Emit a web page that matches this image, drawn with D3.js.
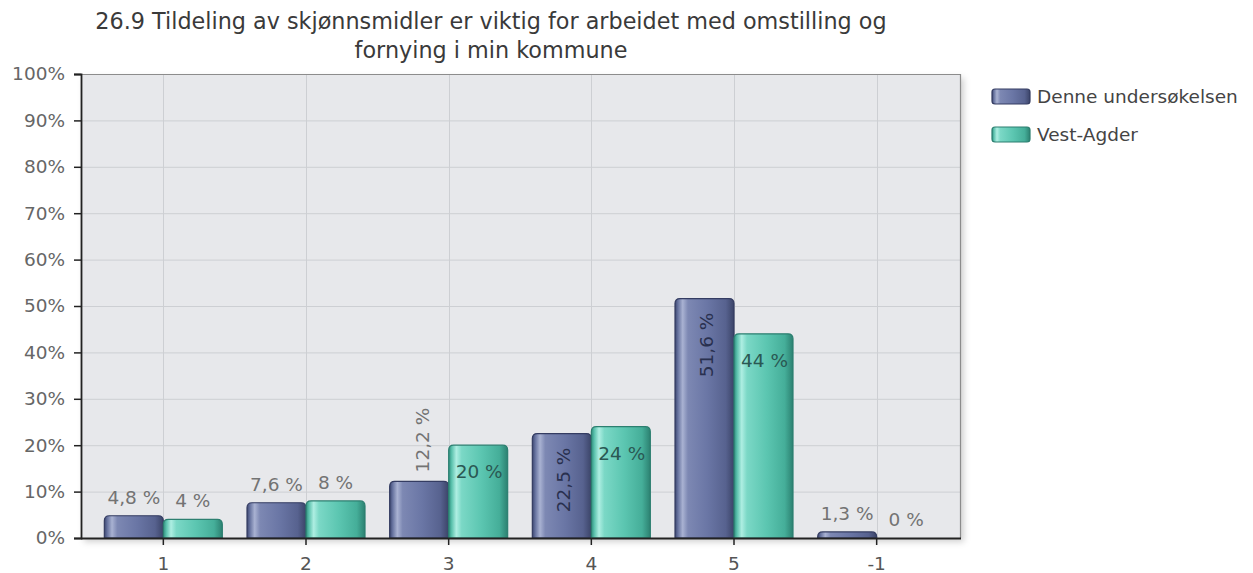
<!DOCTYPE html>
<html><head><meta charset="utf-8">
<script src="https://cdn.jsdelivr.net/npm/d3@7"></script>
<style>
html,body{margin:0;padding:0;background:#fff;}
svg{display:block;font-family:"DejaVu Sans",sans-serif;}
</style></head>
<body><svg id="chart" width="1253" height="573"></svg>
<script>
const titleLines = ["26.9 Tildeling av skjønnsmidler er viktig for arbeidet med omstilling og", "fornying i min kommune"];
const categories = ["1", "2", "3", "4", "5", "-1"];
const seriesNames = ["Denne undersøkelsen", "Vest-Agder"];
const denneValues = [4.8, 7.6, 12.2, 22.5, 51.6, 1.3];
const vestAgderValues = [4, 8, 20, 24, 44, 0];
const labelsDenne = ["4,8 %", "7,6 %", "12,2 %", "22,5 %", "51,6 %", "1,3 %"];
const labelsVest = ["4 %", "8 %", "20 %", "24 %", "44 %", "0 %"];
const yTicks = [0, 10, 20, 30, 40, 50, 60, 70, 80, 90, 100];

const series = [
  {name: seriesNames[0], values: denneValues, labels: labelsDenne, grad: "gBlue", stroke: "#343c62", inText: "#29304f"},
  {name: seriesNames[1], values: vestAgderValues, labels: labelsVest, grad: "gTeal", stroke: "#2c7f70", inText: "#2a5853"}
];

const svg = d3.select("#chart");
const L = 81, R = 961, T = 74, B = 538;
const defs = svg.append("defs");

function grad(id, stops) {
  const g = defs.append("linearGradient").attr("id", id).attr("x1", "0%").attr("x2", "100%").attr("y1", "0%").attr("y2", "0%");
  stops.forEach(s => g.append("stop").attr("offset", s[0]).attr("stop-color", s[1]));
}
grad("gBlue", [["0%", "#3c4670"], ["5%", "#67739f"], ["13%", "#a9b2d2"], ["22%", "#7d88b3"], ["55%", "#6a76a5"], ["86%", "#57628f"], ["100%", "#3b4468"]]);
grad("gTeal", [["0%", "#2f8c7c"], ["5%", "#5ac1ac"], ["13%", "#aeeee2"], ["22%", "#7bd8c6"], ["55%", "#5cc6b1"], ["86%", "#45ae99"], ["100%", "#2c8171"]]);
const f = defs.append("filter").attr("id", "shadow").attr("x", "-5%").attr("y", "-5%").attr("width", "110%").attr("height", "115%");
f.append("feDropShadow").attr("dx", 3).attr("dy", 4).attr("stdDeviation", 3).attr("flood-color", "#000").attr("flood-opacity", 0.18);

const x = d3.scaleBand().domain(categories).range([92, 948]).paddingInner(0).paddingOuter(0);
const barW = 59;
const xs = d3.scaleBand().domain(seriesNames).range([-barW, barW]);
const y = d3.scaleLinear().domain([0, 100]).range([B, T]);
const cx = c => x(c) + x.bandwidth() / 2;

// plot background
svg.append("rect").attr("x", L).attr("y", T).attr("width", R - L).attr("height", B - T)
  .attr("fill", "#e7e8eb").attr("filter", "url(#shadow)");

// grid
svg.append("g").selectAll("line.h").data(yTicks.slice(1)).join("line")
  .attr("x1", L).attr("x2", R).attr("y1", d => y(d) + 0.5).attr("y2", d => y(d) + 0.5)
  .attr("stroke", "#cdcfd3").attr("stroke-width", 1);
svg.append("g").selectAll("line.v").data(categories).join("line")
  .attr("x1", d => Math.round(cx(d)) + 0.5).attr("x2", d => Math.round(cx(d)) + 0.5).attr("y1", T).attr("y2", B)
  .attr("stroke", "#cdcfd3").attr("stroke-width", 1);

// top/right border
svg.append("path").attr("d", `M${L},${T + 0.5}H${R - 0.5}V${B}`).attr("fill", "none").attr("stroke", "#8c8c8c").attr("stroke-width", 1.2);

// bars
function barPath(x0, w, y0, h, r) {
  r = Math.min(r, h, w / 2);
  if (h <= 0) return "";
  return `M${x0},${y0 + h}V${y0 + r}Q${x0},${y0} ${x0 + r},${y0}H${x0 + w - r}Q${x0 + w},${y0} ${x0 + w},${y0 + r}V${y0 + h}Z`;
}
const gBars = svg.append("g");
series.forEach(s => {
  categories.forEach((c, i) => {
    const v = s.values[i];
    const bx = cx(c) + xs(s.name);
    const top = y(v);
    const h = B - top;
    if (h > 0) {
      gBars.append("path").attr("d", barPath(bx, xs.bandwidth(), top, h, 5))
        .attr("fill", `url(#${s.grad})`).attr("stroke", s.stroke).attr("stroke-width", 1.2);
    }
  });
});

// value labels
const gLab = svg.append("g").attr("font-size", "18.5px");
series.forEach(s => {
  categories.forEach((c, i) => {
    const v = s.values[i];
    const bcx = cx(c) + xs(s.name) + xs.bandwidth() / 2;
    const top = y(v);
    const h = B - top;
    const t = gLab.append("text").text(s.labels[i]);
    const w = t.node().getComputedTextLength();
    const rotated = w > xs.bandwidth() - 2;
    const extent = rotated ? w : 18.5;
    const inside = h > extent + 28;
    if (rotated) {
      if (inside) {
        t.attr("text-anchor", "end").attr("dominant-baseline", "central")
          .attr("transform", `translate(${bcx + 2},${top + 14}) rotate(-90)`).attr("fill", s.inText);
      } else {
        t.attr("text-anchor", "start").attr("dominant-baseline", "central")
          .attr("transform", `translate(${bcx + 3},${top - 9}) rotate(-90)`).attr("fill", "#737373");
      }
    } else {
      if (inside) {
        t.attr("text-anchor", "middle").attr("x", bcx + 1).attr("y", top + 33).attr("fill", s.inText);
      } else {
        t.attr("text-anchor", "middle").attr("x", bcx).attr("y", top - 12).attr("fill", "#737373");
      }
    }
  });
});

// y axis
const yAxis = d3.axisLeft(y).tickValues(yTicks).tickSize(7).tickPadding(9).tickFormat(d => d + "%");
const gy = svg.append("g").attr("transform", `translate(${L},0)`).call(yAxis);
gy.select(".domain").attr("stroke", "#222").attr("stroke-width", 1.8);
gy.selectAll(".tick line").attr("stroke", "#222").attr("stroke-width", 1.5);
gy.selectAll(".tick text").attr("font-family", "DejaVu Sans").attr("font-size", "18.5px").attr("fill", "#666");

// x axis
const xAxis = d3.axisBottom(x).tickSize(7).tickPadding(12).tickSizeOuter(0);
const gx = svg.append("g").attr("transform", `translate(0,${B})`).call(xAxis);
gx.select(".domain").attr("d", `M${L},0.5H${R}`).attr("stroke", "#222").attr("stroke-width", 1.8);
gx.selectAll(".tick line").attr("stroke", "#222").attr("stroke-width", 1.5);
gx.selectAll(".tick text").attr("font-family", "DejaVu Sans").attr("font-size", "18.5px").attr("fill", "#555");

// title
svg.append("g").selectAll("text").data(titleLines).join("text")
  .attr("x", 491).attr("y", (d, i) => 29 + i * 29)
  .attr("text-anchor", "middle").attr("font-size", "22.3px").attr("fill", "#3a3a3a").text(d => d);

// legend
const lg = svg.append("g");
series.forEach((s, i) => {
  const yy = 89 + i * 38;
  lg.append("rect").attr("x", 992).attr("y", yy).attr("width", 38).attr("height", 15).attr("rx", 3)
    .attr("fill", `url(#${s.grad})`).attr("stroke", s.stroke).attr("stroke-width", 1.2);
  lg.append("text").attr("x", 1037).attr("y", yy + 14).attr("font-size", "18.5px").attr("fill", "#444").text(s.name);
});
</script></body></html>
